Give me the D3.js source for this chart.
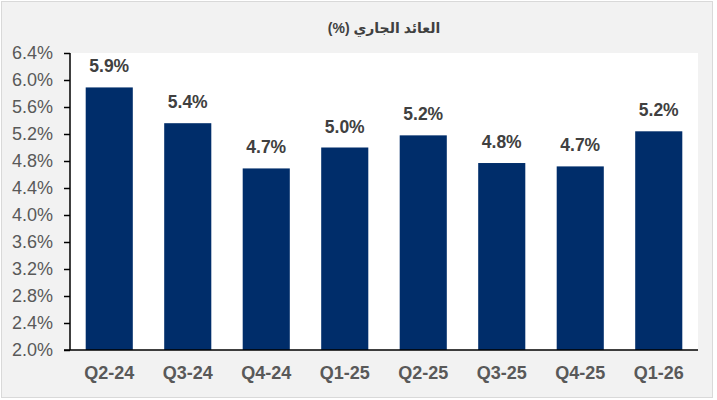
<!DOCTYPE html>
<html>
<head>
<meta charset="utf-8">
<script src="https://cdn.jsdelivr.net/npm/d3@7"></script>
<style>
  body { margin: 0; background: #fff; }
  svg { display: block; font-family: Arial, "Liberation Sans", "DejaVu Sans", sans-serif; }
</style>
</head>
<body>
<svg id="chart" width="717" height="400"></svg>
<script>
// data
var quarters = ["Q2-24", "Q3-24", "Q4-24", "Q1-25", "Q2-25", "Q3-25", "Q4-25", "Q1-26"];
var yields = [5.89, 5.36, 4.69, 5.00, 5.18, 4.77, 4.72, 5.24];
var labels = ["5.9%", "5.4%", "4.7%", "5.0%", "5.2%", "4.8%", "4.7%", "5.2%"];
var yTicks = [2.0, 2.4, 2.8, 3.2, 3.6, 4.0, 4.4, 4.8, 5.2, 5.6, 6.0, 6.4];
var title = "العائد الجاري (%)";

var w = 717, h = 400;
var padL = 70, padR = 698, padT = 53, padB = 350;

var svg = d3.select("#chart");

// outer frame
svg.append("rect")
    .attr("x", 1.5).attr("y", 1.5)
    .attr("width", 711).attr("height", 396)
    .style("fill", "#f2f2f2")
    .style("stroke", "#d9d9d9")
    .style("stroke-width", 1);

// plot area
svg.append("rect")
    .attr("x", padL).attr("y", padT)
    .attr("width", padR - padL).attr("height", padB - padT)
    .style("fill", "#fff");

var xScale = d3.scaleBand().domain(quarters).range([padL, padR]).paddingInner(0.4).paddingOuter(0.2);
var yScale = d3.scaleLinear().domain([2.0, 6.4]).range([padB, padT]);

// bars
svg.selectAll(".bar")
    .data(yields)
    .enter().append("rect")
    .attr("class", "bar")
    .attr("x", (d, i) => xScale(quarters[i]))
    .attr("y", d => yScale(d))
    .attr("width", xScale.bandwidth())
    .attr("height", d => padB - yScale(d))
    .style("fill", "#002d6a");

// value labels
svg.selectAll(".val")
    .data(yields)
    .enter().append("text")
    .attr("class", "val")
    .attr("x", (d, i) => xScale(quarters[i]) + xScale.bandwidth() / 2)
    .attr("y", d => yScale(d) - 15)
    .attr("text-anchor", "middle")
    .style("font-size", "17.5px")
    .style("font-weight", "bold")
    .style("fill", "#404040")
    .text((d, i) => labels[i]);

// y axis
var yAxis = svg.append("g")
    .attr("transform", `translate(${padL},0)`)
    .call(d3.axisLeft(yScale).tickValues(yTicks).tickSize(6).tickPadding(11)
        .tickFormat(d => d3.format(".1f")(d) + "%"));
yAxis.select(".domain").attr("d", `M0,${padT}V${padB}`).style("stroke", "#000").style("stroke-width", 1.5);
yAxis.selectAll("line").style("stroke", "#000").style("stroke-width", 1.5);
yAxis.selectAll("text")
    .style("font-size", "18px")
    .style("fill", "#595959")
    .style("font-family", "Arial, 'Liberation Sans', sans-serif");

// x axis line
svg.append("line")
    .attr("x1", padL - 6).attr("x2", padR)
    .attr("y1", padB).attr("y2", padB)
    .style("stroke", "#000")
    .style("stroke-width", 1.5);

// x labels
svg.selectAll(".xlab")
    .data(quarters)
    .enter().append("text")
    .attr("class", "xlab")
    .attr("x", d => xScale(d) + xScale.bandwidth() / 2)
    .attr("y", 379)
    .attr("text-anchor", "middle")
    .style("font-size", "18px")
    .style("font-weight", "bold")
    .style("fill", "#595959")
    .text(d => d);

// title (right-to-left)
svg.append("text")
    .attr("x", (padL + padR) / 2)
    .attr("y", 33)
    .attr("text-anchor", "middle")
    .attr("direction", "rtl")
    .style("unicode-bidi", "embed")
    .style("font-size", "14px")
    .style("font-weight", "bold")
    .style("fill", "#404040")
    .text(title);
</script>
</body>
</html>
